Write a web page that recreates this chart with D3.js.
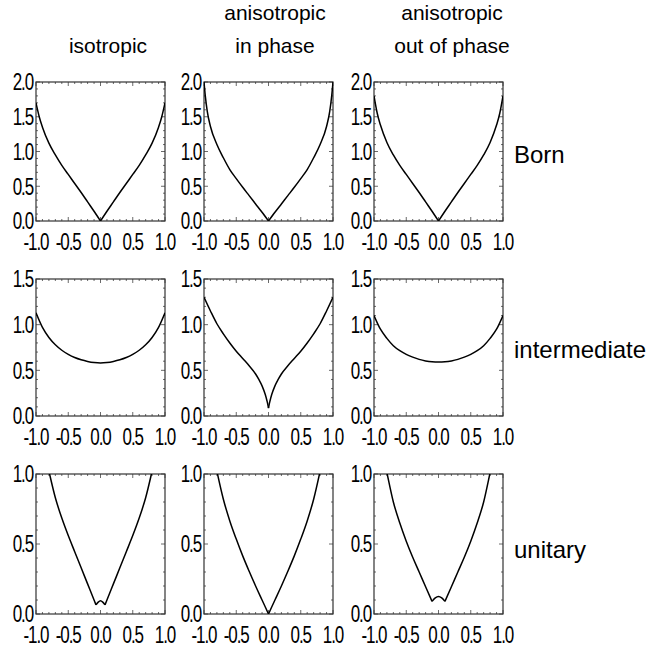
<!DOCTYPE html>
<html><head><meta charset="utf-8">
<script src="https://cdn.jsdelivr.net/npm/d3@7"></script>
<style>
body{margin:0;background:#fff;}
svg text{font-family:"Liberation Sans",Arial,sans-serif;fill:#000;}
</style></head>
<body><svg id="c" width="647" height="651"></svg>
<script>
// ---- data ----
const colTitles = [["isotropic"], ["anisotropic","in phase"], ["anisotropic","out of phase"]];
const rowTitles = ["Born", "intermediate", "unitary"];
const rowYMax = [2.0, 1.5, 1.0];
const xTickValues = [-1, -0.5, 0, 0.5, 1];
const xTickLabels = ["-1.0", "-0.5", "0.0", "0.5", "1.0"];
const yTickValues = [[0, 0.5, 1.0, 1.5, 2.0], [0, 0.5, 1.0, 1.5], [0, 0.5, 1.0]];
const yTickLabels = [["0.0","0.5","1.0","1.5","2.0"], ["0.0","0.5","1.0","1.5"], ["0.0","0.5","1.0"]];

// Born
const bornIsoX = [-1,-0.95,-0.9,-0.8,-0.7,-0.6,-0.5,-0.4,-0.3,-0.2,-0.1,0,0.1,0.2,0.3,0.4,0.5,0.6,0.7,0.8,0.9,0.95,1];
const bornIsoY = [1.70,1.50,1.35,1.12,0.95,0.80,0.67,0.54,0.41,0.275,0.14,0,0.14,0.275,0.41,0.54,0.67,0.80,0.95,1.12,1.35,1.50,1.70];
const bornInX = [-1,-0.98,-0.95,-0.9,-0.8,-0.7,-0.6,-0.5,-0.4,-0.3,-0.2,-0.1,0,0.1,0.2,0.3,0.4,0.5,0.6,0.7,0.8,0.9,0.95,0.98,1];
const bornInY = [2.0,1.80,1.58,1.36,1.10,0.91,0.74,0.61,0.485,0.365,0.245,0.125,0,0.125,0.245,0.365,0.485,0.61,0.74,0.91,1.10,1.36,1.58,1.80,2.0];
const bornOutX = [-1,-0.95,-0.9,-0.8,-0.7,-0.6,-0.5,-0.4,-0.3,-0.2,-0.1,0,0.1,0.2,0.3,0.4,0.5,0.6,0.7,0.8,0.9,0.95,1];
const bornOutY = [1.80,1.55,1.38,1.13,0.95,0.80,0.67,0.54,0.41,0.275,0.14,0,0.14,0.275,0.41,0.54,0.67,0.80,0.95,1.13,1.38,1.55,1.80];
// intermediate
const midIsoX = [-1,-0.9,-0.8,-0.7,-0.6,-0.5,-0.4,-0.3,-0.2,-0.1,0,0.1,0.2,0.3,0.4,0.5,0.6,0.7,0.8,0.9,1];
const midIsoY = [1.13,0.97,0.86,0.78,0.72,0.675,0.64,0.615,0.597,0.585,0.58,0.585,0.597,0.615,0.64,0.675,0.72,0.78,0.86,0.97,1.13];
const midInX = [-1,-0.9,-0.8,-0.7,-0.6,-0.5,-0.4,-0.3,-0.2,-0.15,-0.1,-0.05,-0.025,-0.01,0,0.01,0.025,0.05,0.1,0.15,0.2,0.3,0.4,0.5,0.6,0.7,0.8,0.9,1];
const midInY = [1.30,1.15,1.01,0.90,0.80,0.71,0.63,0.55,0.46,0.40,0.33,0.235,0.17,0.125,0.085,0.125,0.17,0.235,0.33,0.40,0.46,0.55,0.63,0.71,0.80,0.90,1.01,1.15,1.30];
const midOutX = [-1,-0.9,-0.8,-0.7,-0.6,-0.5,-0.4,-0.3,-0.2,-0.1,0,0.1,0.2,0.3,0.4,0.5,0.6,0.7,0.8,0.9,1];
const midOutY = [1.10,0.95,0.85,0.77,0.715,0.675,0.645,0.62,0.603,0.593,0.59,0.593,0.603,0.62,0.645,0.675,0.715,0.77,0.85,0.95,1.10];
// unitary
const uniIsoX = [-0.85,-0.8,-0.7,-0.6,-0.5,-0.4,-0.3,-0.2,-0.1,-0.07,-0.035,0,0.035,0.07,0.1,0.2,0.3,0.4,0.5,0.6,0.7,0.8,0.85];
const uniIsoY = [1.12,1.02,0.83,0.685,0.56,0.445,0.33,0.215,0.10,0.065,0.085,0.095,0.085,0.065,0.10,0.215,0.33,0.445,0.56,0.685,0.83,1.02,1.12];
const uniInX = [-0.85,-0.8,-0.7,-0.6,-0.5,-0.4,-0.3,-0.2,-0.1,0,0.1,0.2,0.3,0.4,0.5,0.6,0.7,0.8,0.85];
const uniInY = [1.13,1.02,0.82,0.665,0.535,0.415,0.305,0.20,0.10,0,0.10,0.20,0.305,0.415,0.535,0.665,0.82,1.02,1.13];
const uniOutX = [-0.85,-0.8,-0.7,-0.6,-0.5,-0.4,-0.3,-0.2,-0.1,-0.05,0,0.05,0.1,0.2,0.3,0.4,0.5,0.6,0.7,0.8,0.85];
const uniOutY = [1.12,1.01,0.80,0.65,0.52,0.405,0.30,0.195,0.09,0.115,0.125,0.115,0.09,0.195,0.30,0.405,0.52,0.65,0.80,1.01,1.12];
// x positions of cusps in each panel
const bornIsoCusps = [0], bornInCusps = [0], bornOutCusps = [0];
const midIsoCusps = [], midInCusps = [0], midOutCusps = [];
const uniIsoCusps = [-0.07, 0.07], uniInCusps = [0], uniOutCusps = [-0.1, 0.1];

const panels = [
  [[bornIsoX,bornIsoY,bornIsoCusps],[bornInX,bornInY,bornInCusps],[bornOutX,bornOutY,bornOutCusps]],
  [[midIsoX,midIsoY,midIsoCusps],[midInX,midInY,midInCusps],[midOutX,midOutY,midOutCusps]],
  [[uniIsoX,uniIsoY,uniIsoCusps],[uniInX,uniInY,uniInCusps],[uniOutX,uniOutY,uniOutCusps]]
];

// ---- layout ----
const colX = [36, 204, 374];
const panelW = 129;
const rowY = [82, 279, 474];
const panelH = [139, 137, 140];

const svg = d3.select("#c");
const tickFontSize = 23, tickScaleX = 0.74, tickLS = -1.5;

function tickText(g, x, y, anchor, s) {
  g.append("text")
    .attr("transform", `translate(${x},${y}) scale(${tickScaleX},1)`)
    .attr("text-anchor", anchor).attr("font-size", tickFontSize)
    .attr("letter-spacing", tickLS).attr("dy", "0.36em").text(s);
}

panels.forEach((row, ri) => {
  row.forEach((p, ci) => {
    const x0 = colX[ci], y0 = rowY[ri], w = panelW, h = panelH[ri];
    const xs = d3.scaleLinear().domain([-1, 1]).range([x0, x0 + w]);
    const ys = d3.scaleLinear().domain([0, rowYMax[ri]]).range([y0 + h, y0]);
    const g = svg.append("g");
    const clipId = `clip${ri}${ci}`;
    g.append("clipPath").attr("id", clipId).append("rect")
      .attr("x", x0).attr("y", y0).attr("width", w).attr("height", h);

    // minor & major ticks, inside, all four sides
    const xMinor = d3.range(-10, 11).map(d => d / 10);
    const yMinor = d3.range(0, Math.round(rowYMax[ri] * 10) + 1).map(d => d / 10);
    const tk = g.append("g").attr("stroke", "#444").attr("stroke-width", 0.8);
    xMinor.forEach(v => {
      const major = Math.abs(v * 2 - Math.round(v * 2)) < 1e-6;
      const L = major ? 4 : 2;
      tk.append("line").attr("x1", xs(v)).attr("x2", xs(v)).attr("y1", y0 + h).attr("y2", y0 + h - L);
      tk.append("line").attr("x1", xs(v)).attr("x2", xs(v)).attr("y1", y0).attr("y2", y0 + L);
    });
    yMinor.forEach(v => {
      const major = Math.abs(v * 2 - Math.round(v * 2)) < 1e-6;
      const L = major ? 4 : 2;
      tk.append("line").attr("y1", ys(v)).attr("y2", ys(v)).attr("x1", x0).attr("x2", x0 + L);
      tk.append("line").attr("y1", ys(v)).attr("y2", ys(v)).attr("x1", x0 + w).attr("x2", x0 + w - L);
    });

    // box
    g.append("rect").attr("x", x0).attr("y", y0).attr("width", w).attr("height", h)
      .attr("fill", "none").attr("stroke", "#333").attr("stroke-width", 1.2);

    // curve, split at cusps
    const [X, Y, cusps] = p;
    const pts = X.map((x, i) => [x, Y[i]]);
    const bounds = [-Infinity, ...cusps, Infinity];
    const line = d3.line().x(d => xs(d[0])).y(d => ys(d[1])).curve(d3.curveMonotoneX);
    const cg = g.append("g").attr("clip-path", `url(#${clipId})`);
    for (let k = 0; k < bounds.length - 1; k++) {
      const seg = pts.filter(d => d[0] >= bounds[k] - 1e-9 && d[0] <= bounds[k + 1] + 1e-9);
      cg.append("path").attr("d", line(seg)).attr("fill", "none")
        .attr("stroke", "#000").attr("stroke-width", 1.5);
    }

    // tick labels
    xTickValues.forEach((v, i) => tickText(g, xs(v), y0 + h + 21, "middle", xTickLabels[i]));
    yTickValues[ri].forEach((v, i) => tickText(g, x0 - 3, ys(v), "end", yTickLabels[ri][i]));
  });
});

// column titles
const titleCx = [108, 275, 452];
colTitles.forEach((t, ci) => {
  const lines = t.length === 1 ? [[t[0], 53]] : [[t[0], 20], [t[1], 53]];
  lines.forEach(([s, y]) => {
    svg.append("text").attr("x", titleCx[ci]).attr("y", y).attr("text-anchor", "middle")
      .attr("font-size", 21).text(s);
  });
});
// row titles
const rowLabelY = [163, 358, 558];
rowTitles.forEach((t, ri) => {
  svg.append("text").attr("x", 514).attr("y", rowLabelY[ri]).attr("font-size", 24).text(t);
});
</script></body></html>
